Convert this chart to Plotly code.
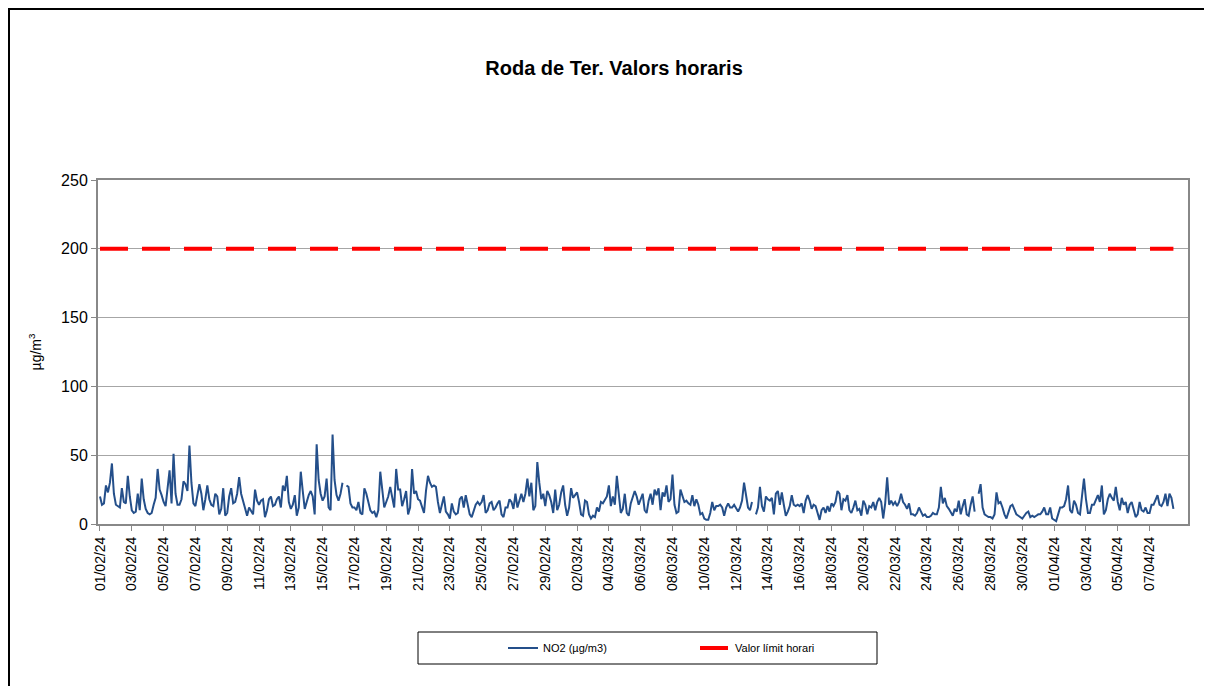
import pandas as pd
import plotly.graph_objects as go

# ---- data (3-hourly readings taken from the chart) ----
START = "2024-02-01 00:00"
STEP = "3h"
LAST_LABEL = "2024-04-07"
no2 = [
    20, 14, 15, 28, 23, 30, 44, 22, 14, 13,
    12, 26, 16, 15, 35, 20, 10, 8, 9, 22,
    10, 33, 18, 11, 8, 7, 8, 14, 19, 40,
    25, 21, 16, 13, 25, 39, 15, 51, 22, 14,
    14, 18, 31, 29, 24, 57, 30, 15, 13, 20,
    29, 22, 10, 18, 28, 18, 14,
    13, 22, 20, 7, 11, 26, 6, 8, 20, 26,
    15, 16, 22, 34, 22, 17, 12, 6, 12, 9,
    7, 25, 17, 14, 17, 18, 5, 10, 18, 20,
    13, 14, 18, 20, 12, 28, 24, 35, 16, 11,
    14, 21, 6, 12, 38, 24, 11, 16, 21, 24,
    20, 7, 58, 32, 22, 17,
    20, 33, 12, 10, 65, 32, 21, 17, 22, 30,
    None, 28, 27, 15, 12, 12, 10, 16, 8, 7,
    26, 22, 15, 10, 8, 9, 5, 10, 38, 22,
    12, 16, 20, 27, 20, 12, 40, 25, 25, 13,
    18, 24, 7, 12, 40, 22, 24, 18, 17, 12,
    8, 24, 35,
    30, 27, 28, 27, 16, 8, 14, 20, 9, 7,
    4, 15, 9, 7, 8, 18, 20, 12, 21, 14,
    7, 5, 10, 14, 16, 14, 16, 21, 8, 10,
    15, 16, 10, 12, 15, 17, 7, 5, 12, 12,
    18, 16, 11, 22, 12, 17, 22, 16, 22, 33,
    20, 30, 10, 13, 45, 30, 18,
    22, 13, 24, 21, 16, 8, 25, 10,
    14, 23, 28, 14, 6, 12, 26, 19, 21, 23,
    16, 7, 6, 17, 16, 7, 4, 6, 5, 12,
    9, 16, 15, 18, 20, 28, 13, 20, 14, 35,
    20, 8, 11, 22, 8, 6, 15, 20, 24, 20,
    14, 18, 22, 10, 8,
    17, 22, 14, 25, 21,
    26, 10, 23, 20, 28, 16, 18, 36, 14, 8,
    9, 25, 21, 16, 17, 15, 14, 21, 13, 18,
    14, 7, 8, 4, 3, 3, 8, 16, 10, 13,
    13, 14, 12, 6, 12, 15, 12, 12, 14, 11,
    9, 12, 17, 30, 20, 12, 10, 16, None, 7,
    12,
    27, 13, 9, 20, 18, 17, 19, 7, 22,
    24, 14, 23, 14, 6, 9, 13, 21, 14, 13,
    14, 13, 15, 8, 17, 21, 17, 11, 14, 13,
    8, 3, 10, 12, 8, 13, 9, 15, 13, 16,
    24, 22, 10, 18, 17, 21, 10, 8, 12, 17,
    10, 11, 6, 17, 14, 7,
    13, 12, 16, 10,
    16, 19, 16, 4, 15, 34, 14, 17, 14, 16,
    13, 16, 22, 16, 14, 11, 15, 7, 7, 6,
    8, 12, 9, 6, 7, 5, 5, 6, 8, 7,
    7, 12, 27, 15, 19, 13, 11, 8, 6, 11,
    9, 17, 7, 13, 18, 7, 6, 14, 20, 9,
    None,
    22, 29, 12, 7, 6, 5, 5, 4, 7,
    23, 15, 16, 12, 7, 4, 8, 13, 14, 10,
    7, 6, 5, 4, 6, 8, 9, 5, 6, 5,
    6, 7, 7, 9, 12, 7, 7, 12, 4, 3,
    2, 7, 12, 12, 13, 18, 28, 10, 8, 17,
    14, 8, 7, 20, 33, 18, 8,
    8, 14, 14,
    18, 21, 16, 28, 7, 10, 18, 22, 19, 17,
    27, 16, 10, 19, 14, 16, 8, 14, 16, 10,
    5, 7, 16, 10, 9, 12, 8, 8, 14, 14,
    17, 21, 14, 13, 16, 22, 13, 22, 19, 11,
]
LIMIT_VALUE = 200
SERIES_NAMES = ["NO2 (µg/m3)", "Valor límit horari"]
TITLE = "Roda de Ter. Valors horaris"
Y_TITLE = "µg/m<sup>3</sup>"
Y_TICKS = [0, 50, 100, 150, 200, 250]

times = pd.date_range(START, periods=len(no2), freq=STEP)
limit = [LIMIT_VALUE] * len(times)
x_ticks = pd.date_range(START, LAST_LABEL, freq="2D")

fig = go.Figure()
fig.add_trace(go.Scatter(
    x=times, y=no2, mode="lines", name=SERIES_NAMES[0],
    line=dict(color="#244F8A", width=2), connectgaps=False,
))
fig.add_trace(go.Scatter(
    x=times, y=limit, mode="lines", name=SERIES_NAMES[1],
    line=dict(color="#FF0000", width=4, dash="28px,14px"),
))

# page is shown with an 8px body offset
OFF = 8
W, H = 1212, 686
L, R, T, B = 98, 1188, 180, 524          # plot area in screen pixels
pw, ph = R - L, B - T

def px(x):
    return (x - L) / pw

def py(y):
    return (B - y) / ph

fig.update_layout(
    width=W, height=H,
    margin=dict(l=L - OFF, r=W - (R - OFF), t=T - OFF, b=H - (B - OFF)),
    paper_bgcolor="white", plot_bgcolor="white",
    font=dict(family="Liberation Sans, Arial, sans-serif", color="black"),
    title=dict(text="<b>" + TITLE + "</b>", font=dict(size=20, color="black"),
               x=(614 - OFF) / W, xanchor="center", xref="container",
               y=1 - (68 - OFF) / H, yanchor="middle", yref="container"),
    showlegend=True,
    legend=dict(orientation="h", x=px(503), xanchor="left",
                y=py(648), yanchor="middle",
                bgcolor="rgba(0,0,0,0)", borderwidth=0,
                font=dict(size=11), entrywidth=147, entrywidthmode="pixels"),
    shapes=[
        dict(type="rect", xref="paper", yref="paper",
             x0=px(418), x1=px(877), y0=py(664), y1=py(632),
             line=dict(color="black", width=1), fillcolor="white", layer="below"),
        dict(type="rect", xref="paper", yref="paper",
             x0=px(9), x1=px(1206), y0=py(720), y1=py(9),
             line=dict(color="black", width=2), fillcolor="rgba(0,0,0,0)"),
    ],
)

fig.update_xaxes(
    type="date",
    range=[pd.Timestamp(START) - pd.Timedelta(hours=3),
           pd.Timestamp(START) + pd.Timedelta(hours=1642)],
    tickvals=x_ticks, tickformat="%d/%m/%y",
    tickangle=-90, tickfont=dict(size=14, color="black"),
    showgrid=False, showline=True, linecolor="#888888", linewidth=2,
    mirror=True, ticks="outside", ticklen=5, tickcolor="#888888",
    zeroline=False,
)
fig.update_yaxes(
    range=[0, 250], tickvals=Y_TICKS, tickfont=dict(size=16, color="black"),
    showgrid=True, gridcolor="#A6A6A6", gridwidth=1,
    showline=True, linecolor="#888888", linewidth=2, mirror=True,
    ticks="outside", ticklen=5, tickcolor="#888888", zeroline=False,
    title=dict(text=Y_TITLE, font=dict(size=14, color="black"), standoff=16),
)

fig.write_html("out.html")
